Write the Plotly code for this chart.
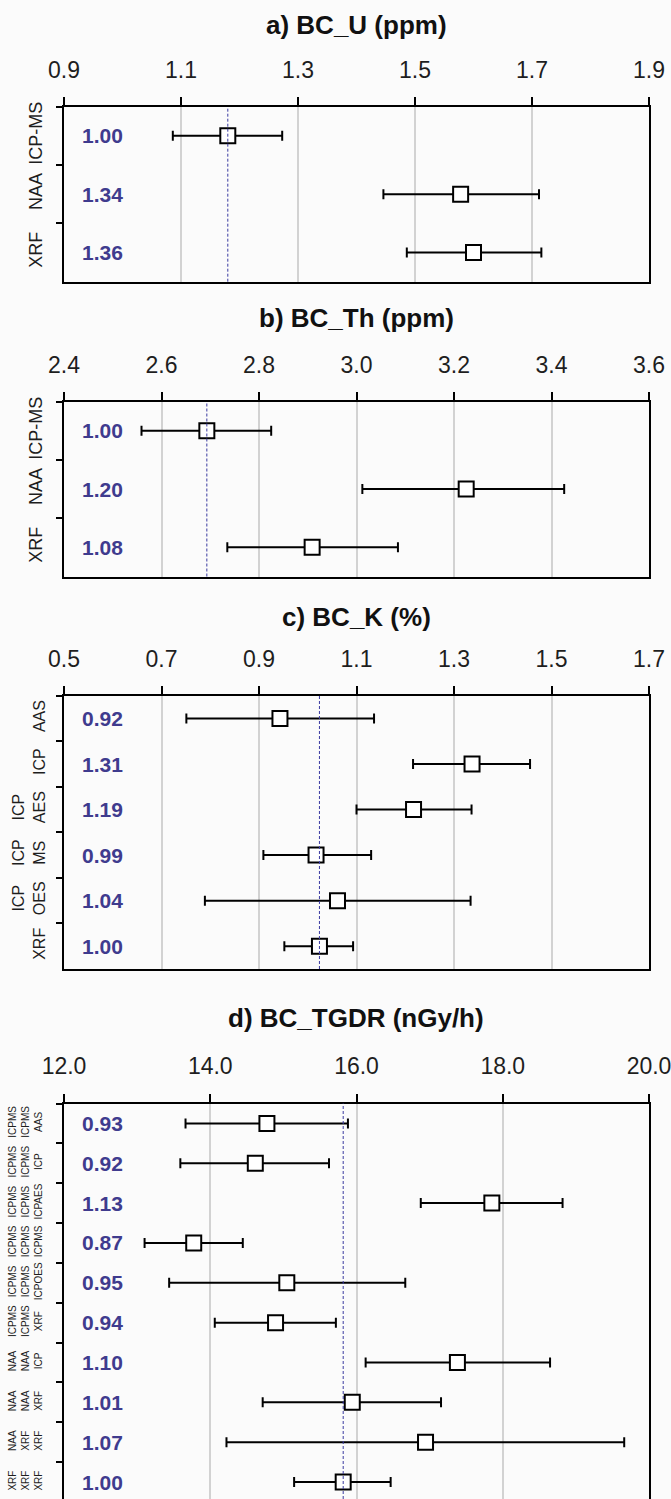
import plotly.graph_objects as go

W, H = 671, 1499

# ---------------- data ----------------
a_title = "a) BC_U (ppm)"
a_labels = ["ICP-MS", "NAA", "XRF"]
a_mean = [1.180, 1.578, 1.600]
a_lo = [1.086, 1.446, 1.486]
a_hi = [1.273, 1.712, 1.716]
a_ratio = [1.00, 1.34, 1.36]
a_ref = 1.180
a_ticks = [0.9, 1.1, 1.3, 1.5, 1.7, 1.9]

b_title = "b) BC_Th (ppm)"
b_labels = ["ICP-MS", "NAA", "XRF"]
b_mean = [2.693, 3.225, 2.909]
b_lo = [2.559, 3.012, 2.735]
b_hi = [2.825, 3.426, 3.085]
b_ratio = [1.00, 1.20, 1.08]
b_ref = 2.693
b_ticks = [2.4, 2.6, 2.8, 3.0, 3.2, 3.4, 3.6]

c_title = "c) BC_K (%)"
c_labels = ["AAS", "ICP", "ICP<br>AES", "ICP<br>MS", "ICP<br>OES", "XRF"]
c_mean = [0.943, 1.337, 1.217, 1.017, 1.061, 1.024]
c_lo = [0.751, 1.216, 1.100, 0.909, 0.789, 0.952]
c_hi = [1.136, 1.456, 1.336, 1.130, 1.334, 1.093]
c_ratio = [0.92, 1.31, 1.19, 0.99, 1.04, 1.00]
c_ref = 1.024
c_ticks = [0.5, 0.7, 0.9, 1.1, 1.3, 1.5, 1.7]

d_title = "d) BC_TGDR (nGy/h)"
d_labels = ["ICPMS<br>ICPMS<br>AAS", "ICPMS<br>ICPMS<br>ICP", "ICPMS<br>ICPMS<br>ICPAES",
            "ICPMS<br>ICPMS<br>ICPMS", "ICPMS<br>ICPMS<br>ICPOES", "ICPMS<br>ICPMS<br>XRF",
            "NAA<br>NAA<br>ICP", "NAA<br>NAA<br>XRF", "NAA<br>XRF<br>XRF", "XRF<br>XRF<br>XRF"]
d_mean = [14.775, 14.616, 17.851, 13.774, 15.047, 14.893, 17.380, 15.942, 16.944, 15.818]
d_lo = [13.662, 13.591, 16.879, 13.102, 13.438, 14.062, 16.125, 14.717, 14.222, 15.147]
d_hi = [15.883, 15.624, 18.818, 14.445, 16.667, 15.718, 18.647, 17.156, 19.661, 16.467]
d_ratio = [0.93, 0.92, 1.13, 0.87, 0.95, 0.94, 1.10, 1.01, 1.07, 1.00]
d_ref = 15.818
d_ticks = [12.0, 14.0, 16.0, 18.0, 20.0]

# ---------------- layout geometry (pixels) ----------------
LEFT, RIGHT = 64, 649
panels = [
    dict(title=a_title, labels=a_labels, mean=a_mean, lo=a_lo, hi=a_hi, ratio=a_ratio, ref=a_ref,
         ticks=a_ticks, top=106.7, bottom=281.7, title_y=25, lab_size=18, standoff=13, mirror=True),
    dict(title=b_title, labels=b_labels, mean=b_mean, lo=b_lo, hi=b_hi, ratio=b_ratio, ref=b_ref,
         ticks=b_ticks, top=401.7, bottom=576.5, title_y=318, lab_size=18, standoff=13, mirror=True),
    dict(title=c_title, labels=c_labels, mean=c_mean, lo=c_lo, hi=c_hi, ratio=c_ratio, ref=c_ref,
         ticks=c_ticks, top=695.7, bottom=969, title_y=617, lab_size=16, standoff=11, mirror=True),
    dict(title=d_title, labels=d_labels, mean=d_mean, lo=d_lo, hi=d_hi, ratio=d_ratio, ref=d_ref,
         ticks=d_ticks, top=1103.5, bottom=1502, title_y=1018, lab_size=10, standoff=16, mirror=False),
]

FONT = "Arial, 'Liberation Sans', Helvetica, sans-serif"
NUM_COLOR = "#3f3b8e"

fig = go.Figure()
annotations = []
shapes = []
layout_axes = {}

for i, p in enumerate(panels):
    k = "" if i == 0 else str(i + 1)
    xa, ya = "x" + k, "y" + k
    n = len(p["labels"])
    fig.add_trace(go.Scatter(
        x=p["mean"], y=p["labels"], xaxis=xa, yaxis=ya, mode="markers",
        marker=dict(symbol="square", size=15, color="white", line=dict(color="black", width=2)),
        error_x=dict(type="data", symmetric=False,
                     array=[h - m for h, m in zip(p["hi"], p["mean"])],
                     arrayminus=[m - l for m, l in zip(p["mean"], p["lo"])],
                     color="black", thickness=2, width=5),
        showlegend=False, hoverinfo="skip",
    ))
    bot = min(p["bottom"], H)
    dom = [1 - bot / H, 1 - p["top"] / H]
    row_px = (p["bottom"] - p["top"]) / n
    yrange_bottom = -0.5 + (bot - p["top"]) / row_px
    layout_axes["xaxis" + k] = dict(
        domain=[LEFT / W, RIGHT / W], anchor=ya, side="top", automargin=False,
        range=[p["ticks"][0], p["ticks"][-1]], tickvals=p["ticks"], tickformat=".1f",
        ticks="outside", ticklen=8, tickwidth=1.5, tickcolor="black",
        ticklabelstandoff=10, ticklabeloverflow="allow",
        tickfont=dict(family=FONT, size=23, color="#1e1e1e"),
        showgrid=True, gridcolor="#d2d2d2", gridwidth=1.5,
        showline=True, linewidth=2, linecolor="black", mirror=p["mirror"],
        zeroline=False, fixedrange=True,
    )
    layout_axes["yaxis" + k] = dict(
        domain=dom, anchor=xa, type="category", automargin=False,
        categoryorder="array", categoryarray=p["labels"],
        range=[yrange_bottom, -0.5],
        tickson="boundaries", ticks="outside", ticklen=6, tickwidth=1.5, tickcolor="black",
        tickangle=-90, ticklabelstandoff=p["standoff"], ticklabeloverflow="allow",
        tickfont=dict(family=FONT, size=p["lab_size"], color="#1e1e1e"),
        showgrid=False, showline=True, linewidth=2, linecolor="black", mirror=True,
        zeroline=False, fixedrange=True,
    )
    # title
    annotations.append(dict(
        text="<b>" + p["title"] + "</b>", xref="paper", yref="paper",
        x=(LEFT + RIGHT) / 2 / W, y=1 - p["title_y"] / H, xanchor="center", yanchor="middle",
        showarrow=False, font=dict(family=FONT, size=26, color="#111111"),
    ))
    # ratio numbers
    for lab, r in zip(p["labels"], p["ratio"]):
        annotations.append(dict(
            text="<b>{:.2f}</b>".format(r), xref=xa + " domain", yref=ya,
            x=(102 - LEFT) / (RIGHT - LEFT), y=lab, xanchor="center", yanchor="middle",
            showarrow=False, font=dict(family=FONT, size=21, color=NUM_COLOR),
        ))
    # reference line
    shapes.append(dict(
        type="line", xref=xa, yref=ya + " domain", x0=p["ref"], x1=p["ref"], y0=0, y1=1,
        line=dict(color="#3a3aa0", width=1, dash="3px,2px"), layer="above",
    ))

fig.update_layout(
    width=W, height=H, margin=dict(l=0, r=0, t=0, b=0, pad=0, autoexpand=False),
    paper_bgcolor="#fbfbfb", plot_bgcolor="#fbfbfb",
    annotations=annotations, shapes=shapes, showlegend=False,
    **layout_axes,
)

fig.write_html(
    "out.html",
    config={"displayModeBar": False, "responsive": False},
    post_script="document.body.style.margin='0px';document.body.style.overflow='hidden';",
)
